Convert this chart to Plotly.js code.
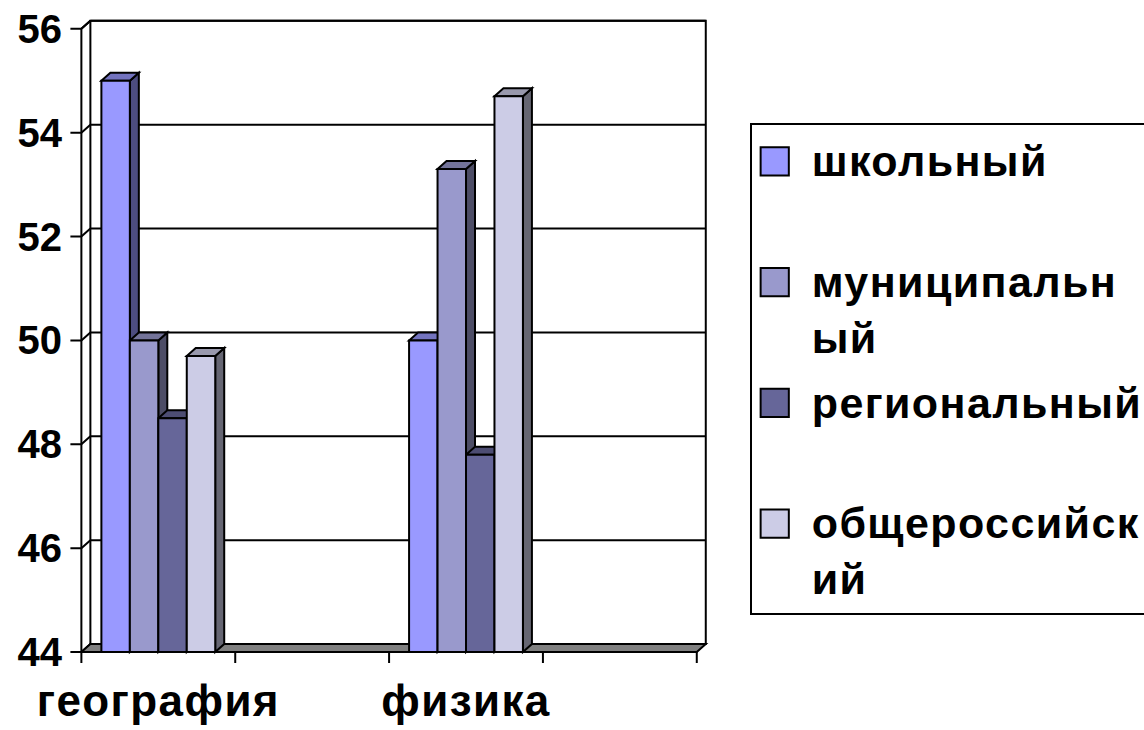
<!DOCTYPE html>
<html>
<head>
<meta charset="utf-8">
<script src="https://cdn.plot.ly/plotly-3.0.1.min.js"></script>
<style>
html,body{margin:0;padding:0;background:#fff;}
#chart{width:1144px;height:730px;}
.legendtext{letter-spacing:1.4px;}
#chart .xtick text{letter-spacing:1.4px;}
</style>
</head>
<body>
<div id="chart"></div>
<script>
// ---- data ----
const categories = ['география', '', 'физика', ''];
const seriesNames = ['школьный', 'муниципальный', 'региональный', 'общероссийский'];
const legendLabels = ['школьный<br>&nbsp;', 'муниципальн<br>ый', 'региональный<br>&nbsp;', 'общероссийск<br>ий'];
const school     = [55.0, null, 50.0, null];
const municipal  = [50.0, null, 53.3, null];
const regional   = [48.5, null, 47.8, null];
const allRussian = [49.7, null, 54.7, null];
const yTicks = [44, 46, 48, 50, 52, 54, 56];

// ---- styles ----
const colors = ['#9999FF', '#9999CC', '#666699', '#CCCCE6'];
const FONT = 'Liberation Sans, Arial, sans-serif';
const W = 1144, H = 730;
const yMin = 44, yMax = 56;
// pixel geometry of the front plane
const frontLeftPx = 81, frontRightPx = 697, frontBottomPx = 652, frontTopPx = 29;
const ppx = (frontRightPx - frontLeftPx) / categories.length;
const ppy = (frontBottomPx - frontTopPx) / (yMax - yMin);
const dx = 9 / ppx, dy = 8 / ppy;           // 3D depth offsets (axis units)
const xLo = -0.5, xHi = categories.length - 0.5;
const xr = [xLo - 0.1, xHi + dx + 0.06];
const yr = [yMin - 0.25, yMax + dy + 0.15];
const mL = frontLeftPx - (xLo - xr[0]) * ppx;
const plotW = (xr[1] - xr[0]) * ppx;
const mR = W - mL - plotW;
const mB = H - (frontBottomPx + (yMin - yr[0]) * ppy);
const plotH = (yr[1] - yr[0]) * ppy;
const mT = H - mB - plotH;

const bargap = 0.26;
const nS = seriesNames.length;
const bw = (1 - bargap) / nS;

function shade(hex, f) {
  const n = parseInt(hex.slice(1), 16);
  const r = Math.round(((n >> 16) & 255) * f), g = Math.round(((n >> 8) & 255) * f), b = Math.round((n & 255) * f);
  return 'rgb(' + r + ',' + g + ',' + b + ')';
}

const allSeries = [school, municipal, regional, allRussian];
const xIdx = categories.map((c, i) => i);

const data = allSeries.map((vals, s) => ({
  type: 'bar',
  name: legendLabels[s],
  legendgroup: 'g' + s,
  x: xIdx,
  y: vals.map(v => v == null ? null : v - yMin),
  base: yMin,
  customdata: vals,
  hovertemplate: seriesNames[s] + ': %{customdata}<extra></extra>',
  marker: { color: colors[s], line: { color: '#000', width: 2 } }
}));

// ---- 3D frame shapes ----
const BL = { color: '#000', width: 2 };
const shapes = [];
function P(pts) { return 'M' + pts.map(p => p[0] + ',' + p[1]).join('L') + 'Z'; }
function L(pts) { return 'M' + pts.map(p => p[0] + ',' + p[1]).join('L'); }
// back wall
shapes.push({ type: 'path', xref: 'x', yref: 'y', layer: 'below', fillcolor: '#fff', line: BL,
  path: P([[xLo + dx, yMin + dy], [xHi + dx, yMin + dy], [xHi + dx, yMax + dy], [xLo + dx, yMax + dy]]) });
// gridlines on back wall
yTicks.forEach(v => {
  shapes.push({ type: 'line', xref: 'x', yref: 'y', layer: 'below', line: BL,
    x0: xLo + dx, x1: xHi + dx, y0: v + dy, y1: v + dy });
});
// front left axis line + tick marks with depth connectors
shapes.push({ type: 'path', xref: 'x', yref: 'y', layer: 'below', line: BL,
  path: L([[xLo, yMin], [xLo, yMax], [xLo + dx, yMax + dy]]) });
const tlx = 11 / ppx;
yTicks.forEach(v => {
  shapes.push({ type: 'path', xref: 'x', yref: 'y', layer: 'below', line: BL,
    path: L([[xLo - tlx, v], [xLo, v], [xLo + dx, v + dy]]) });
});
// floor
shapes.push({ type: 'path', xref: 'x', yref: 'y', layer: 'below', fillcolor: '#808080', line: BL,
  path: P([[xLo, yMin], [xHi, yMin], [xHi + dx, yMin + dy], [xLo + dx, yMin + dy]]) });
// x tick marks at category boundaries
const tly = 11 / ppy;
for (let i = 0; i <= categories.length; i++) {
  const b = xLo + i;
  shapes.push({ type: 'line', xref: 'x', yref: 'y', layer: 'below', line: BL,
    x0: b, x1: b, y0: yMin, y1: yMin - tly });
}
// bar side & top faces
xIdx.forEach(i => {
  allSeries.forEach((vals, s) => {
    const v = vals[i];
    if (v == null) return;
    const left = i - (1 - bargap) / 2 + s * bw, right = left + bw;
    shapes.push({ type: 'path', xref: 'x', yref: 'y', layer: 'below', fillcolor: shade(colors[s], 0.5), line: BL,
      path: P([[right, yMin], [right, v], [right + dx, v + dy], [right + dx, yMin + dy]]) });
    shapes.push({ type: 'path', xref: 'x', yref: 'y', layer: 'below', fillcolor: shade(colors[s], 0.75), line: BL,
      path: P([[left, v], [left + dx, v + dy], [right + dx, v + dy], [right, v]]) });
  });
});

const labelIdx = xIdx.filter(i => categories[i] !== '');
const legendTopPx = 123, legendLeftPx = 750;

const layout = {
  width: W, height: H,
  margin: { l: mL, r: mR, t: mT, b: mB, pad: 0, autoexpand: false },
  paper_bgcolor: '#fff', plot_bgcolor: 'rgba(0,0,0,0)',
  barmode: 'group', bargap: bargap, bargroupgap: 0,
  showlegend: true,
  legend: {
    x: (legendLeftPx - mL) / plotW, xanchor: 'left',
    y: 1 - (legendTopPx - mT) / plotH, yanchor: 'top',
    bordercolor: '#000', borderwidth: 2, bgcolor: '#fff',
    font: { family: FONT, size: 43, color: '#000', weight: 'bold' },
    valign: 'top', itemwidth: 50, tracegroupgap: 6
  },
  xaxis: {
    type: 'linear', range: xr, showgrid: false, zeroline: false, showline: false,
    tickmode: 'array', tickvals: labelIdx, ticktext: labelIdx.map(i => categories[i]),
    ticks: '', ticklabelstandoff: 6,
    tickfont: { family: FONT, size: 44, color: '#000', weight: 'bold' }
  },
  yaxis: {
    range: yr, showgrid: false, zeroline: false, showline: false,
    tickmode: 'array', tickvals: yTicks, ticktext: yTicks.map(String),
    ticks: '', ticklabelstandoff: 3,
    tickfont: { family: FONT, size: 40, color: '#000', weight: 'bold' }
  },
  shapes: shapes
};

Plotly.newPlot('chart', data, layout, { staticPlot: true, displayModeBar: false }).then(gd => {
  gd.querySelectorAll('.legend .legendpoints path').forEach(p => {
    p.setAttribute('transform', 'translate(23,2) scale(2.35)');
    p.style.strokeWidth = '0.85px';
  });
});
</script>
</body>
</html>
